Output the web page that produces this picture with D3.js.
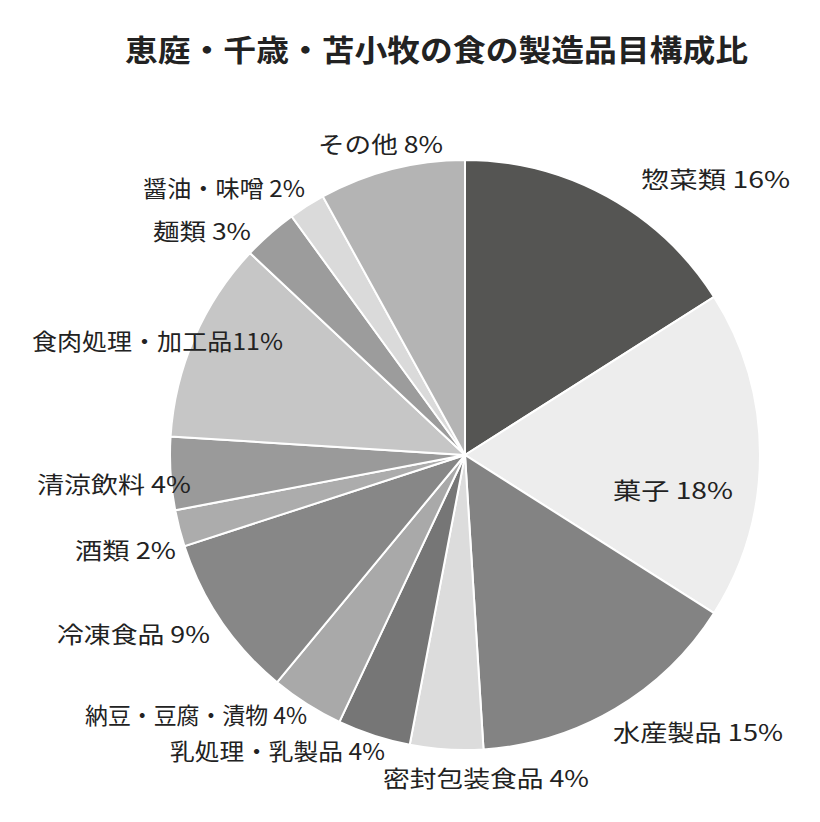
<!DOCTYPE html>
<html><head><meta charset="utf-8">
<script src="https://cdn.jsdelivr.net/npm/d3@7"></script>
<style>body{margin:0;background:#fff}</style></head>
<body><svg id="c" width="820" height="822"></svg>
<script>
const categories=["惣菜類","菓子","水産製品","密封包装食品","乳処理・乳製品","納豆・豆腐・漬物","冷凍食品","酒類","清涼飲料","食肉処理・加工品","麺類","醤油・味噌","その他"];
const values=[16,18,15,4,4,4,9,2,4,11,3,2,8];
const labels=["惣菜類 16%","菓子 18%","水産製品 15%","密封包装食品 4%","乳処理・乳製品 4%","納豆・豆腐・漬物 4%","冷凍食品 9%","酒類 2%","清涼飲料 4%","食肉処理・加工品11%","麺類 3%","醤油・味噌 2%","その他 8%"];
const colors=["#555553","#ededed","#838383","#dcdcdc","#767676","#a9a9a9","#878787","#acacac","#9a9a9a","#c6c6c6","#9c9c9c","#dadada","#b4b4b4"];
const labelPos=[[641,178],[613,489],[613,731],[383,777],[170,750],[85,714],[57,633],[75,549],[37,483],[32,340],[153,230],[143,187],[318,143]];
const labelW=[149,120,170,206,215,222,153,101,154,251,98,162,125];
const svg=d3.select("#c");
const font="'Noto Sans CJK JP','Noto Sans',sans-serif";
svg.append("text").attr("x",125).attr("y",48).attr("dominant-baseline","central")
 .attr("font-family",font).attr("font-weight","bold").attr("font-size",30).attr("fill","#222")
 .attr("textLength",623).attr("lengthAdjust","spacingAndGlyphs")
 .text("恵庭・千歳・苫小牧の食の製造品目構成比");
const pie=d3.pie().sort(null).value(d=>d)(values);
const arc=d3.arc().innerRadius(0).outerRadius(295);
const g=svg.append("g").attr("transform","translate(465,455)");
g.selectAll("path").data(pie).join("path").attr("d",arc).attr("fill",(d,i)=>colors[i]).attr("stroke","#fff").attr("stroke-width",2);
svg.selectAll("text.l").data(labels).join("text").attr("class","l")
 .attr("x",(d,i)=>labelPos[i][0]).attr("y",(d,i)=>labelPos[i][1]).attr("dominant-baseline","central")
 .attr("textLength",(d,i)=>labelW[i]).attr("lengthAdjust","spacingAndGlyphs")
 .attr("font-family",font).attr("font-size",23).attr("fill","#222").text(d=>d);
</script></body></html>
